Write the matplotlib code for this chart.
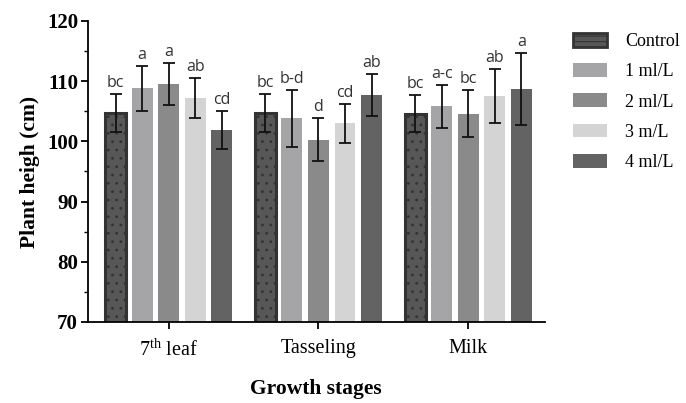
import numpy as np
import matplotlib
matplotlib.use('Agg')
import matplotlib.pyplot as plt
from matplotlib.ticker import MultipleLocator
from matplotlib.patches import Patch

plt.rcParams['hatch.color'] = '#9a9a9a'
plt.rcParams['hatch.linewidth'] = 0.8
plt.rcParams['mathtext.fontset'] = 'custom'
plt.rcParams['mathtext.rm'] = 'Liberation Serif'

stages = ['7$^{\\mathrm{th}}$ leaf', 'Tasseling', 'Milk']
treatments = ['Control', '1 ml/L', '2 ml/L', '3 m/L', '4 ml/L']

# mean plant height per treatment, one value per stage
means = {
    'Control': [104.7, 104.7, 104.6],
    '1 ml/L': [108.8, 103.8, 105.8],
    '2 ml/L': [109.5, 100.3, 104.6],
    '3 m/L': [107.2, 103.0, 107.5],
    '4 ml/L': [101.9, 107.7, 108.7],
}
errs = {
    'Control': [3.1, 3.1, 3.1],
    '1 ml/L': [3.7, 4.8, 3.6],
    '2 ml/L': [3.5, 3.6, 3.9],
    '3 m/L': [3.4, 3.2, 4.5],
    '4 ml/L': [3.1, 3.5, 6.0],
}
letters = {
    'Control': ['bc', 'bc', 'bc'],
    '1 ml/L': ['a', 'b-d', 'a-c'],
    '2 ml/L': ['a', 'd', 'bc'],
    '3 m/L': ['ab', 'cd', 'ab'],
    '4 ml/L': ['cd', 'ab', 'a'],
}
colors = ['#575757', '#a5a5a7', '#8a8a8a', '#d4d4d4', '#636363']

fig = plt.figure(figsize=(6.86, 4.03), dpi=100)
ax = fig.add_axes([0.128, 0.201, 0.666, 0.747])

x = np.arange(len(stages))
pitch = 0.177
width = 0.14
handles = []
for i, t in enumerate(treatments):
    pos = x + (i - 2) * pitch
    if t == 'Control':
        ax.bar(pos, means[t], width, color=colors[i],
               edgecolor='#333333', linewidth=2.2, hatch='..')
        h = Patch(facecolor=colors[i], edgecolor='#333333', linewidth=2, hatch='---')
    else:
        ax.bar(pos, means[t], width, color=colors[i], edgecolor='none')
        h = Patch(facecolor=colors[i], edgecolor='none')
    handles.append(h)
    ax.errorbar(pos, means[t], yerr=errs[t], fmt='none', ecolor='#111111',
                elinewidth=1.3, capsize=4, capthick=1.3)
    for p, m, e, lab in zip(pos, means[t], errs[t], letters[t]):
        ax.text(p, m + e + 0.5, lab, ha='center', va='bottom',
                fontsize=11.5, color='#333333', family='Open Sans')

ax.set_ylim(70, 120)
ax.set_xlim(-0.54, 2.51)
ax.yaxis.set_major_locator(MultipleLocator(10))
ax.yaxis.set_minor_locator(MultipleLocator(5))
ax.set_xticks(x)
ax.set_xticklabels(stages, family='Liberation Serif', fontsize=14.5)

for lab in ax.get_yticklabels():
    lab.set_family('Liberation Serif')
    lab.set_fontweight('bold')
    lab.set_fontsize(15)

ax.spines['right'].set_visible(False)
ax.spines['top'].set_visible(False)
ax.spines['left'].set_linewidth(1.3)
ax.spines['bottom'].set_linewidth(1.3)
ax.tick_params(axis='both', which='major', direction='out', length=5, width=1.3, pad=2)
ax.tick_params(axis='x', which='major', pad=7)
ax.tick_params(axis='y', which='minor', direction='out', length=3, width=1.0)

ax.set_ylabel('Plant heigh (cm)', family='Liberation Serif', fontweight='bold',
              fontsize=15.5, labelpad=5)
ax.set_xlabel('Growth stages', family='Liberation Serif', fontweight='bold',
              fontsize=15.5, labelpad=13)

fig.legend(handles, treatments, loc='upper left', bbox_to_anchor=(0.835, 0.918),
           frameon=False, borderpad=0, borderaxespad=0,
           handlelength=1.9, handleheight=0.8,
           labelspacing=0.72, handletextpad=1.0,
           prop={'family': 'Liberation Serif', 'size': 13})

fig.savefig('out.png', dpi=100)
